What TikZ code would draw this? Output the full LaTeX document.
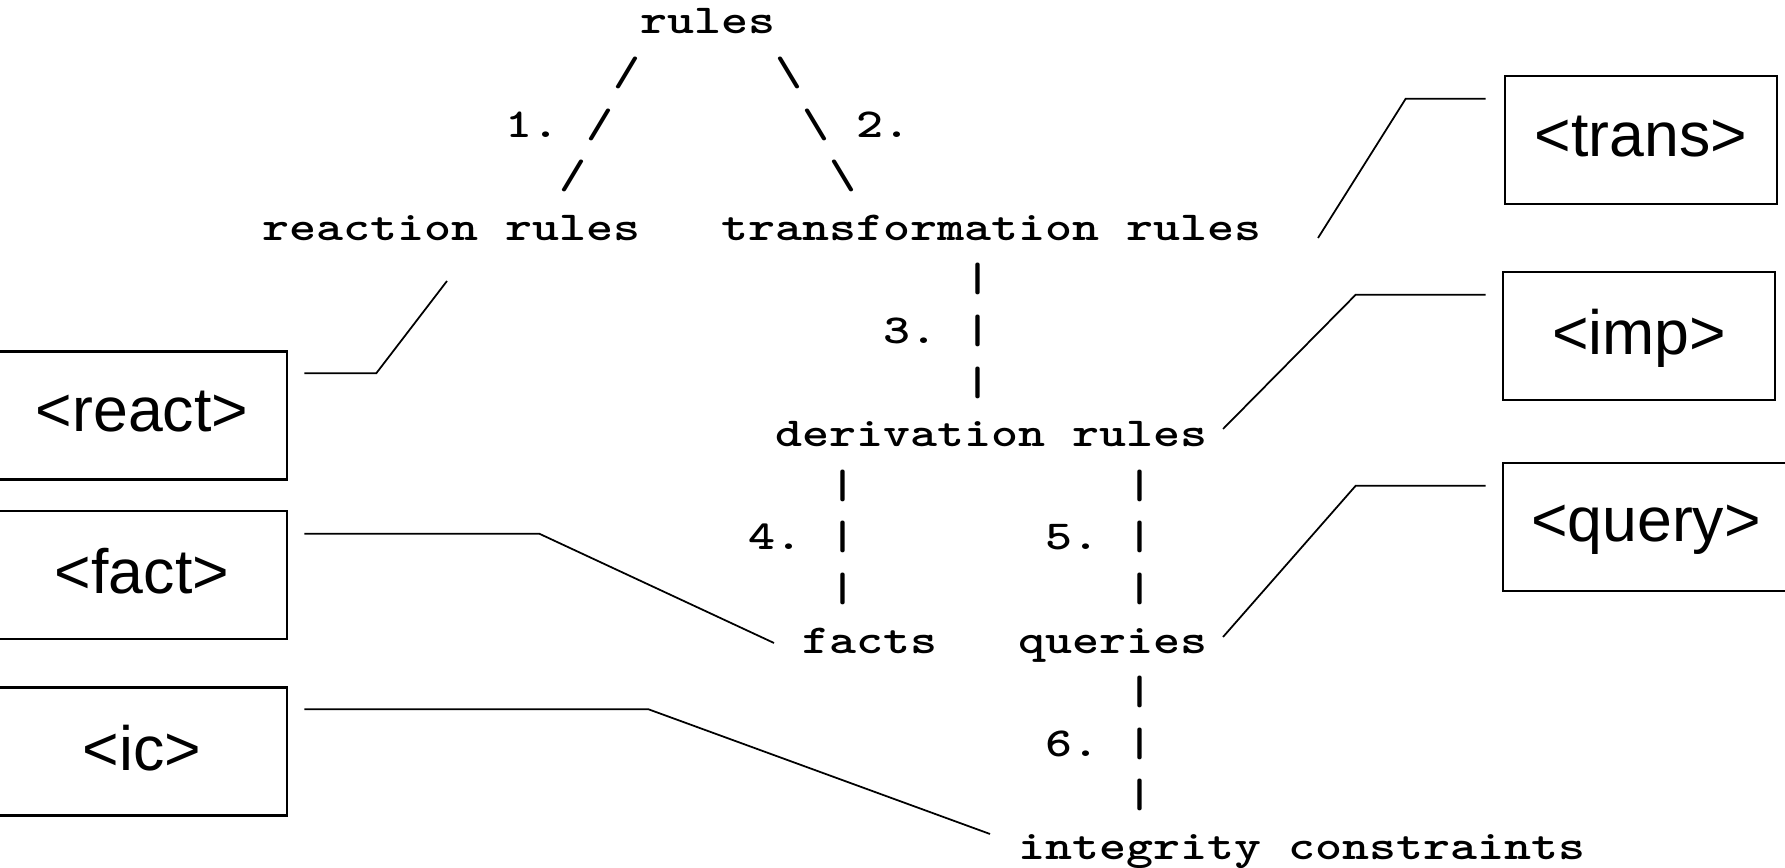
\documentclass[tikz,border=0pt]{standalone}
\usepackage{fontspec}
\usepackage{graphicx}
\newfontfamily\tagfont{Liberation Sans}
\newcommand{\wide}[1]{\scalebox{1.25}[1]{#1}}
\tikzset{
  ascii/.style={font=\ttfamily\bfseries\fontsize{11.7}{12}\selectfont\frenchspacing, anchor=base west, inner sep=0pt},
  tagbox/.style={draw, line width=0.7pt, font=\tagfont\fontsize{17.8}{20}\selectfont, minimum height=1.28cm, text depth=0.22em, inner sep=0pt},
  leader/.style={line width=0.5pt}
}

\begin{document}
\begin{tikzpicture}[x=0.01cm, y=-0.01cm]
\useasboundingbox (0,0) rectangle (1785,868);
% ascii tree: columns 27 wide from x=262, baselines 51.6 apart from y=34
\node[ascii] (top) at (640,34) {\wide{rules}};
\node[ascii] (s1l) at (613,85.6) {\wide{/}};
\node[ascii] (s1r) at (775,85.6) {\wide{\textbackslash}};
\node[ascii] (n1) at (505,137.2) {\wide{1. /}};
\node[ascii] (n2) at (802,137.2) {\wide{\textbackslash{} 2.}};
\node[ascii] (s3l) at (559,188.8) {\wide{/}};
\node[ascii] (s3r) at (829,188.8) {\wide{\textbackslash}};
\node[ascii] (react) at (262,240.4) {\wide{reaction rules}};
\node[ascii] (trans) at (721,240.4) {\wide{transformation rules}};
\node[ascii] (p5) at (964,292) {\wide{|}};
\node[ascii] (n3) at (883,343.6) {\wide{3. |}};
\node[ascii] (p7) at (964,395.2) {\wide{|}};
\node[ascii] (deriv) at (775,446.8) {\wide{derivation rules}};
\node[ascii] (p9a) at (829,498.4) {\wide{|}};
\node[ascii] (p9b) at (1126,498.4) {\wide{|}};
\node[ascii] (n4) at (748,550) {\wide{4. |}};
\node[ascii] (n5) at (1045,550) {\wide{5. |}};
\node[ascii] (p11a) at (829,601.6) {\wide{|}};
\node[ascii] (p11b) at (1126,601.6) {\wide{|}};
\node[ascii] (facts) at (802,653.2) {\wide{facts}};
\node[ascii] (queries) at (1018,653.2) {\wide{queries}};
\node[ascii] (p13) at (1126,704.8) {\wide{|}};
\node[ascii] (n6) at (1045,756.4) {\wide{6. |}};
\node[ascii] (p15) at (1126,808) {\wide{|}};
\node[ascii] (ic) at (1018,859.6) {\wide{integrity constraints}};
% element boxes
\node[tagbox, minimum width=2.9cm] (reactbox) at (142,415.5) {<react>};
\node[tagbox, minimum width=2.9cm] (factbox) at (142,575) {<fact>};
\node[tagbox, minimum width=2.9cm] (icbox) at (142,751.5) {<ic>};
\node[tagbox, minimum width=2.72cm] (transbox) at (1641,140) {<trans>};
\node[tagbox, minimum width=2.72cm] (impbox) at (1639,336) {<imp>};
\node[tagbox, minimum width=2.86cm] (querybox) at (1646,527) {<query>};
% leaders
\coordinate (reactend) at (447,281);
\coordinate (factend) at (774,643);
\coordinate (icend) at (990,834);
\coordinate (transend) at (1318,238);
\coordinate (impend) at (1223,429);
\coordinate (queryend) at (1223,637);
\draw[leader] ([shift={(16,23)}]reactbox.north east) -- ++(72,0) -- (reactend);
\draw[leader] ([shift={(16,24)}]factbox.north east) -- ++(235,0) -- (factend);
\draw[leader] ([shift={(16,23)}]icbox.north east) -- ++(344,0) -- (icend);
\draw[leader] ([shift={(-18,24)}]transbox.north west) -- ++(-80,0) -- (transend);
\draw[leader] ([shift={(-16,24)}]impbox.north west) -- ++(-130,0) -- (impend);
\draw[leader] ([shift={(-16,24)}]querybox.north west) -- ++(-130,0) -- (queryend);
\end{tikzpicture}
\end{document}
